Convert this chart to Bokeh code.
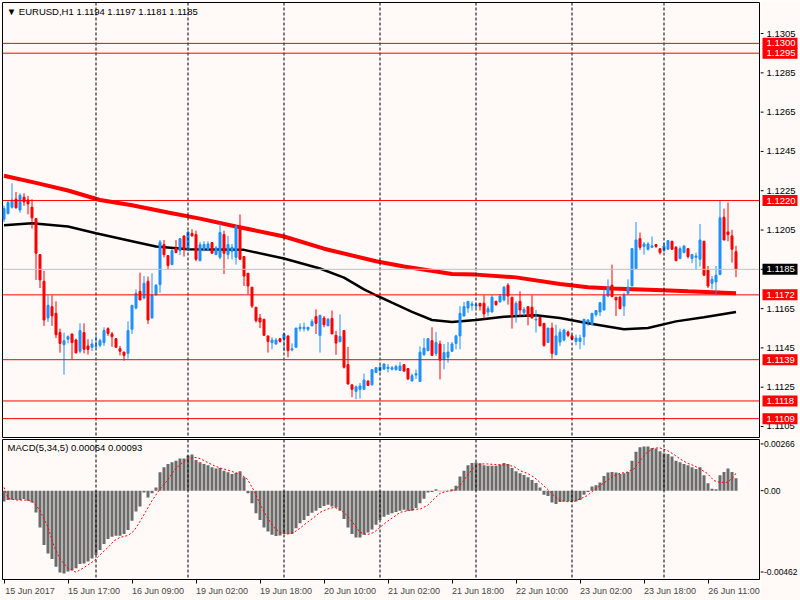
from bokeh.plotting import figure
from bokeh.models import ColumnDataSource, Span, Label, FixedTicker
from bokeh.core.properties import value
from bokeh.layouts import column, row
from bokeh.embed import file_html
from bokeh.resources import INLINE

# ---------------- data (EURUSD H1, bar index 0 = 15 Jun 2017 01:00) ----------------
open_ = [
    1.12105, 1.12134, 1.12166, 1.12207, 1.12152, 1.12217, 1.12203, 1.12166, 1.12108, 1.11925,
    1.11789, 1.11602, 1.11660, 1.11626, 1.11528, 1.11466, 1.11494, 1.11521, 1.11490, 1.11433,
    1.11528, 1.11460, 1.11453, 1.11458, 1.11463, 1.11477, 1.11548, 1.11521, 1.11497, 1.11446,
    1.11429, 1.11422, 1.11545, 1.11653, 1.11738, 1.11704, 1.11789, 1.11602, 1.11721, 1.11772,
    1.11976, 1.11920, 1.11874, 1.11956, 1.11945, 1.12020, 1.11949, 1.12033, 1.12027, 1.11894,
    1.11952, 1.11952, 1.11986, 1.11925, 1.11911, 1.12027, 1.11925, 1.11942, 1.11911, 1.12068,
    1.11915, 1.11830, 1.11759, 1.11657, 1.11602, 1.11596, 1.11511, 1.11477, 1.11470, 1.11497,
    1.11494, 1.11511, 1.11440, 1.11453, 1.11548, 1.11548, 1.11545, 1.11562, 1.11609, 1.11514,
    1.11602, 1.11562, 1.11600, 1.11514, 1.11481, 1.11538, 1.11365, 1.11262, 1.11229, 1.11239,
    1.11239, 1.11282, 1.11262, 1.11325, 1.11335, 1.11342, 1.11345, 1.11342, 1.11339, 1.11335,
    1.11365, 1.11345, 1.11282, 1.11312, 1.11279, 1.11416, 1.11436, 1.11487, 1.11422, 1.11470,
    1.11392, 1.11402, 1.11433, 1.11473, 1.11511, 1.11612, 1.11653, 1.11667, 1.11663, 1.11677,
    1.11677, 1.11633, 1.11633, 1.11687, 1.11684, 1.11694, 1.11769, 1.11708, 1.11619, 1.11687,
    1.11629, 1.11660, 1.11657, 1.11592, 1.11606, 1.11575, 1.11477, 1.11551, 1.11416, 1.11480,
    1.11490, 1.11531, 1.11511, 1.11483, 1.11483, 1.11507, 1.11582, 1.11568, 1.11619, 1.11633,
    1.11643, 1.11714, 1.11769, 1.11708, 1.11708, 1.11663, 1.11728, 1.11765, 1.11854, 1.12006,
    1.11966, 1.11952, 1.11962, 1.11976, 1.11955, 1.11945, 1.11952, 1.11993, 1.11962, 1.11905,
    1.11935, 1.11955, 1.11905, 1.11911, 1.11901, 1.11993, 1.11847, 1.11779, 1.11786, 1.11823,
    1.12115, 1.12040, 1.12020, 1.11940,
]
high_ = [
    1.12173, 1.12198, 1.12288, 1.12244, 1.12237, 1.12237, 1.12224, 1.12207, 1.12108, 1.11925,
    1.11842, 1.11718, 1.11718, 1.11687, 1.11548, 1.11528, 1.11514, 1.11521, 1.11497, 1.11575,
    1.11575, 1.11494, 1.11494, 1.11511, 1.11497, 1.11555, 1.11555, 1.11531, 1.11497, 1.11460,
    1.11429, 1.11585, 1.11667, 1.11748, 1.11833, 1.11816, 1.11813, 1.11830, 1.11775, 1.11999,
    1.11999, 1.11922, 1.11952, 1.11999, 1.12010, 1.12020, 1.12044, 1.12054, 1.12047, 1.11989,
    1.11993, 1.11993, 1.11986, 1.11969, 1.12085, 1.12047, 1.12020, 1.11979, 1.12078, 1.12129,
    1.11915, 1.11830, 1.11759, 1.11657, 1.11623, 1.11596, 1.11511, 1.11504, 1.11500, 1.11497,
    1.11524, 1.11511, 1.11473, 1.11551, 1.11575, 1.11579, 1.11555, 1.11596, 1.11646, 1.11616,
    1.11612, 1.11602, 1.11640, 1.11537, 1.11620, 1.11538, 1.11455, 1.11262, 1.11259, 1.11272,
    1.11319, 1.11282, 1.11339, 1.11352, 1.11362, 1.11372, 1.11368, 1.11358, 1.11365, 1.11378,
    1.11365, 1.11345, 1.11319, 1.11340, 1.11458, 1.11500, 1.11500, 1.11555, 1.11531, 1.11487,
    1.11470, 1.11480, 1.11480, 1.11517, 1.11663, 1.11684, 1.11687, 1.11687, 1.11680, 1.11677,
    1.11718, 1.11663, 1.11718, 1.11690, 1.11724, 1.11765, 1.11779, 1.11708, 1.11687, 1.11738,
    1.11657, 1.11660, 1.11718, 1.11643, 1.11606, 1.11575, 1.11551, 1.11579, 1.11568, 1.11548,
    1.11548, 1.11538, 1.11517, 1.11517, 1.11517, 1.11596, 1.11596, 1.11626, 1.11640, 1.11680,
    1.11748, 1.11799, 1.11874, 1.11708, 1.11714, 1.11731, 1.11799, 1.11959, 1.12091, 1.12037,
    1.11989, 1.11989, 1.12017, 1.11979, 1.11955, 1.11986, 1.11999, 1.11993, 1.11969, 1.11966,
    1.11972, 1.11959, 1.11928, 1.11935, 1.12081, 1.11993, 1.11867, 1.11816, 1.11867, 1.12200,
    1.12159, 1.12190, 1.12051, 1.11970,
]
low_ = [
    1.12091, 1.12129, 1.12159, 1.12159, 1.12139, 1.12173, 1.12130, 1.12057, 1.11796, 1.11755,
    1.11562, 1.11582, 1.11562, 1.11500, 1.11426, 1.11314, 1.11473, 1.11392, 1.11422, 1.11422,
    1.11422, 1.11416, 1.11434, 1.11450, 1.11453, 1.11460, 1.11511, 1.11456, 1.11453, 1.11412,
    1.11385, 1.11395, 1.11521, 1.11646, 1.11694, 1.11697, 1.11572, 1.11602, 1.11715, 1.11731,
    1.11911, 1.11850, 1.11871, 1.11932, 1.11922, 1.11915, 1.11942, 1.12017, 1.11891, 1.11891,
    1.11942, 1.11942, 1.11932, 1.11922, 1.11901, 1.11826, 1.11901, 1.11901, 1.11874, 1.11901,
    1.11765, 1.11724, 1.11653, 1.11579, 1.11551, 1.11514, 1.11426, 1.11443, 1.11466, 1.11477,
    1.11433, 1.11402, 1.11433, 1.11453, 1.11534, 1.11534, 1.11534, 1.11562, 1.11521, 1.11426,
    1.11555, 1.11562, 1.11521, 1.11415, 1.11481, 1.11345, 1.11266, 1.11199, 1.11189, 1.11192,
    1.11239, 1.11259, 1.11259, 1.11322, 1.11325, 1.11339, 1.11325, 1.11335, 1.11335, 1.11332,
    1.11329, 1.11286, 1.11279, 1.11292, 1.11279, 1.11409, 1.11433, 1.11412, 1.11409, 1.11290,
    1.11341, 1.11375, 1.11429, 1.11443, 1.11443, 1.11612, 1.11629, 1.11640, 1.11653, 1.11640,
    1.11599, 1.11612, 1.11629, 1.11665, 1.11680, 1.11687, 1.11670, 1.11548, 1.11579, 1.11609,
    1.11612, 1.11565, 1.11602, 1.11528, 1.11562, 1.11456, 1.11477, 1.11395, 1.11412, 1.11460,
    1.11483, 1.11504, 1.11494, 1.11463, 1.11443, 1.11463, 1.11562, 1.11568, 1.11609, 1.11612,
    1.11640, 1.11708, 1.11708, 1.11612, 1.11646, 1.11612, 1.11721, 1.11765, 1.11854, 1.11949,
    1.11925, 1.11945, 1.11959, 1.11959, 1.11925, 1.11939, 1.11952, 1.11952, 1.11891, 1.11901,
    1.11932, 1.11905, 1.11881, 1.11847, 1.11864, 1.11816, 1.11755, 1.11748, 1.11718, 1.11823,
    1.11999, 1.11993, 1.11884, 1.11810,
]
close_ = [
    1.12159, 1.12190, 1.12203, 1.12163, 1.12227, 1.12193, 1.12183, 1.12112, 1.11932, 1.11796,
    1.11592, 1.11667, 1.11613, 1.11517, 1.11473, 1.11487, 1.11507, 1.11477, 1.11425, 1.11538,
    1.11443, 1.11443, 1.11470, 1.11461, 1.11487, 1.11538, 1.11524, 1.11507, 1.11453, 1.11433,
    1.11412, 1.11538, 1.11667, 1.11728, 1.11694, 1.11779, 1.11592, 1.11718, 1.11769, 1.11989,
    1.11925, 1.11870, 1.11945, 1.11935, 1.12006, 1.11952, 1.12040, 1.12020, 1.11901, 1.11976,
    1.11976, 1.11979, 1.11932, 1.11959, 1.12037, 1.11932, 1.11976, 1.11962, 1.12068, 1.11901,
    1.11816, 1.11765, 1.11663, 1.11589, 1.11582, 1.11514, 1.11483, 1.11490, 1.11490, 1.11483,
    1.11521, 1.11436, 1.11446, 1.11551, 1.11555, 1.11555, 1.11555, 1.11585, 1.11575, 1.11616,
    1.11568, 1.11596, 1.11521, 1.11475, 1.11508, 1.11352, 1.11266, 1.11239, 1.11252, 1.11256,
    1.11286, 1.11259, 1.11339, 1.11349, 1.11352, 1.11368, 1.11352, 1.11349, 1.11355, 1.11358,
    1.11332, 1.11292, 1.11309, 1.11319, 1.11428, 1.11449, 1.11497, 1.11412, 1.11477, 1.11388,
    1.11426, 1.11429, 1.11470, 1.11511, 1.11626, 1.11660, 1.11687, 1.11674, 1.11670, 1.11663,
    1.11623, 1.11650, 1.11708, 1.11670, 1.11714, 1.11759, 1.11714, 1.11612, 1.11677, 1.11643,
    1.11646, 1.11612, 1.11602, 1.11596, 1.11562, 1.11463, 1.11551, 1.11422, 1.11511, 1.11530,
    1.11541, 1.11514, 1.11494, 1.11500, 1.11500, 1.11596, 1.11592, 1.11626, 1.11640, 1.11680,
    1.11718, 1.11759, 1.11711, 1.11694, 1.11650, 1.11718, 1.11759, 1.11955, 1.11999, 1.11962,
    1.11979, 1.11979, 1.11969, 1.11966, 1.11935, 1.11969, 1.11996, 1.11952, 1.11894, 1.11955,
    1.11969, 1.11915, 1.11925, 1.11918, 1.11999, 1.11820, 1.11765, 1.11799, 1.11820, 1.12112,
    1.11999, 1.12027, 1.11952, 1.11850,
]

# moving averages (read at sample bars)
ma_red_bar = [0, 8, 16, 24, 32, 41, 49, 58, 70, 80, 93, 100, 112, 118, 128, 139, 146, 152, 163, 171, 183]
ma_red_val = [1.12326, 1.12290, 1.12251, 1.12203, 1.12176, 1.12139, 1.12108, 1.12068, 1.12017, 1.11955,
              1.11891, 1.11864, 1.11826, 1.11823, 1.11809, 1.11775, 1.11759, 1.11752, 1.11745, 1.11738, 1.11728]
ma_black_bar = [0, 7, 16, 23, 32, 38, 46, 60, 70, 79, 85, 90, 93, 97, 102, 107, 112, 118, 125, 133,
                139, 146, 155, 161, 168, 175, 183]
ma_black_val = [1.12074, 1.12085, 1.12068, 1.12034, 1.11993, 1.11966, 1.11952, 1.11949, 1.11905, 1.11854,
                1.11808, 1.11748, 1.11718, 1.11680, 1.11633, 1.11592, 1.11582, 1.11592, 1.11609, 1.11616,
                1.11602, 1.11575, 1.11545, 1.11551, 1.11585, 1.11606, 1.11633]

# MACD(5,34,5) histogram, one value per bar
macd_hist = [
    -0.00056, -0.00049, -0.00047, -0.00047, -0.00049, -0.00043, -0.00052, -0.00061, -0.00113, -0.00191,
    -0.00283, -0.00327, -0.00356, -0.00396, -0.00426, -0.00431, -0.00421, -0.00414, -0.00403, -0.00382,
    -0.00379, -0.00369, -0.00353, -0.00334, -0.00308, -0.00278, -0.00252, -0.00240, -0.00235, -0.00235,
    -0.00226, -0.00205, -0.00156, -0.00108, -0.00083, -0.00010, -0.00035, -0.00014, 0.00017, 0.00096,
    0.00122, 0.00139, 0.00148, 0.00156, 0.00167, 0.00167, 0.00183, 0.00188, 0.00160, 0.00148,
    0.00139, 0.00132, 0.00122, 0.00115, 0.00118, 0.00104, 0.00096, 0.00087, 0.00092, 0.00101,
    0.00070, -0.00014, -0.00066, -0.00118, -0.00153, -0.00191, -0.00212, -0.00229, -0.00236, -0.00233,
    -0.00226, -0.00226, -0.00226, -0.00195, -0.00170, -0.00153, -0.00132, -0.00115, -0.00104, -0.00090,
    -0.00080, -0.00073, -0.00083, -0.00087, -0.00104, -0.00148, -0.00191, -0.00226, -0.00243, -0.00243,
    -0.00229, -0.00217, -0.00202, -0.00177, -0.00153, -0.00136, -0.00125, -0.00118, -0.00111, -0.00104,
    -0.00099, -0.00104, -0.00104, -0.00090, -0.00066, -0.00042, -0.00009, -0.00007, 0.00007, -0.00003,
    -0.00003, -0.00003, 0.00007, 0.00026, 0.00073, 0.00104, 0.00132, 0.00144, 0.00146, 0.00143,
    0.00132, 0.00129, 0.00129, 0.00130, 0.00136, 0.00144, 0.00139, 0.00118, 0.00101, 0.00090,
    0.00082, 0.00070, 0.00056, 0.00040, 0.00017, -0.00021, -0.00028, -0.00061, -0.00070, -0.00059,
    -0.00057, -0.00056, -0.00056, -0.00056, -0.00049, -0.00021, -0.00007, 0.00021, 0.00028, 0.00042,
    0.00076, 0.00094, 0.00097, 0.00094, 0.00087, 0.00090, 0.00097, 0.00156, 0.00202, 0.00226,
    0.00229, 0.00229, 0.00222, 0.00219, 0.00205, 0.00195, 0.00191, 0.00177, 0.00156, 0.00148,
    0.00139, 0.00132, 0.00122, 0.00113, 0.00122, 0.00080, 0.00038, 0.00010, 0.00007, 0.00080,
    0.00097, 0.00115, 0.00097, 0.00064,
]
# signal line (read at sample bars)
signal_bar = [0, 1, 3, 6, 7.5, 9, 11, 12.5, 14, 16, 18, 20, 22.5, 24, 26, 27.5, 29, 31, 32.5, 34,
              35.8, 37, 39, 40.8, 42.5, 44, 45.8, 47.5, 49, 50.8, 52.5, 54, 55.8, 57.5, 59, 60.8,
              62.5, 64, 65.8, 67.5, 69, 70.8, 72.5, 74, 75.8, 77.5, 79, 80.8, 82.5, 84, 85.8, 87.5,
              89, 90.8, 92.5, 94, 95.8, 97.5, 99, 102.5, 104, 105.8, 107.5, 109, 110.8, 112.5, 114,
              115.8, 117.5, 119, 120.8, 122.5, 124, 125.8, 127.5, 129, 130.8, 132.5, 134, 135.8, 137.5,
              139, 140.8, 142.5, 144, 145.8, 147.5, 149, 150.8, 152.5, 154, 155.8, 157.5, 159, 160.8,
              162.5, 164, 165.8, 167.5, 169, 170.8, 172.5, 174, 175.8, 177.5, 179, 180.8, 182.5, 183]
signal_val = [0.00017, -0.00040, -0.00049, -0.00049, -0.00061, -0.00104, -0.00191, -0.00287, -0.00356, -0.00403,
              -0.00424, -0.00400, -0.00365, -0.00334, -0.00295, -0.00261, -0.00243, -0.00233, -0.00209, -0.00160,
              -0.00096, -0.00052, 0.00009, 0.00052, 0.00104, 0.00136, 0.00163, 0.00174, 0.00167, 0.00148,
              0.00130, 0.00118, 0.00108, 0.00096, 0.00087, 0.00061, 0.00000, -0.00070, -0.00139, -0.00191,
              -0.00217, -0.00226, -0.00217, -0.00195, -0.00165, -0.00139, -0.00113, -0.00096, -0.00087, -0.00096,
              -0.00130, -0.00174, -0.00217, -0.00229, -0.00217, -0.00191, -0.00160, -0.00136, -0.00113, -0.00097,
              -0.00096, -0.00078, -0.00043, -0.00014, -0.00003, 0.00000, 0.00026, 0.00078, 0.00122, 0.00139,
              0.00139, 0.00136, 0.00134, 0.00134, 0.00125, 0.00104, 0.00090, 0.00070, 0.00043, 0.00009,
              -0.00026, -0.00052, -0.00057, -0.00056, -0.00043, -0.00026, 0.00003, 0.00026, 0.00052, 0.00078,
              0.00090, 0.00096, 0.00113, 0.00156, 0.00200, 0.00222, 0.00222, 0.00209, 0.00188, 0.00165,
              0.00143, 0.00130, 0.00113, 0.00090, 0.00052, 0.00043, 0.00043, 0.00073, 0.00093]

# horizontal levels and scale labels
red_levels = [1.1300, 1.1295, 1.1220, 1.1172, 1.1139, 1.1118, 1.1109]
last_price = 1.1185
price_ticks = [1.1105, 1.1125, 1.1145, 1.1165, 1.1185, 1.1205, 1.1225, 1.1245, 1.1265, 1.1285, 1.1305]
day_start_bars = [23, 46, 70, 94, 118, 142, 165]
time_tick_bars = [0, 16, 32, 48, 64, 80, 96, 112, 128, 144, 160, 176]
time_tick_labels = ["15 Jun 2017", "15 Jun 17:00", "16 Jun 09:00", "19 Jun 02:00", "19 Jun 18:00",
                    "20 Jun 10:00", "21 Jun 02:00", "21 Jun 18:00", "22 Jun 10:00", "23 Jun 02:00",
                    "23 Jun 18:00", "26 Jun 11:00"]
macd_scale_labels = ["0.00266", "0.00", "-0.00462"]
macd_scale_at = [0.00243, 0.0, -0.00423]
title_text = "\u25bc EURUSD,H1  1.1194 1.1197 1.1181 1.1185"
macd_text = "MACD(5,34,5) 0.00064 0.00093"

# ---------------- styling ----------------
BG = "#fffaf8"
FONT = "Liberation Sans"
FS = "9.5px"
BLUE = "#1e90ff"
RED = "#ff0000"
X0 = -0.375
X1 = X0 + 757 / 4.0
PRICE_RANGE = (1.10994, 1.13208)
MACD_RANGE = (-0.00462, 0.00266)

n = len(close_)
bars = list(range(n))
colors = [BLUE if c >= o else RED for o, c in zip(open_, close_)]
src = ColumnDataSource(dict(
    x=bars, h=high_, l=low_,
    top=[max(o, c) for o, c in zip(open_, close_)],
    bottom=[min(o, c) for o, c in zip(open_, close_)],
    color=colors,
))

# ---------------- price panel ----------------
p = figure(width=760, height=438, x_range=(X0, X1), y_range=PRICE_RANGE,
           y_axis_location=None, x_axis_location=None, toolbar_location=None,
           output_backend="svg", min_border_left=2, min_border_right=1,
           min_border_top=2, min_border_bottom=1,
           background_fill_color=BG, border_fill_color=BG, outline_line_color="black")
p.grid.visible = False

for b in day_start_bars:
    p.add_layout(Span(location=b, dimension="height", line_color="black", line_width=1, line_dash="3 2"))
for lv in red_levels:
    p.add_layout(Span(location=lv, dimension="width", line_color=RED, line_width=1))
p.add_layout(Span(location=last_price, dimension="width", line_color="#c0c0c0", line_width=1))

p.line(ma_black_bar, ma_black_val, line_color="black", line_width=2.5)
p.line(ma_red_bar, ma_red_val, line_color=RED, line_width=4)

p.segment(x0="x", y0="h", x1="x", y1="l", line_color="color", line_width=1, source=src)
p.vbar(x="x", width=0.5, top="top", bottom="bottom", fill_color="color",
       line_color="color", line_width=1, source=src)

p.add_layout(Label(x=0.7, y=1.13162, text=title_text, text_align="left", text_baseline="middle",
                   text_color="black", text_font=FONT, text_font_size=FS))

# ---------------- price scale column (right of the chart) ----------------
pr = figure(width=40, height=438, x_range=(0, 40), y_range=p.y_range,
            y_axis_location=None, x_axis_location=None, toolbar_location=None,
            output_backend="svg", min_border_left=0, min_border_right=0,
            min_border_top=2, min_border_bottom=1,
            background_fill_color=BG, border_fill_color=BG, outline_line_color=None)
pr.grid.visible = False
pr.segment(x0=[0] * len(price_ticks), y0=price_ticks, x1=[3] * len(price_ticks), y1=price_ticks,
           line_color="black", line_width=1)
pr.text(x=[6] * len(price_ticks), y=price_ticks, text=[f"{t:.4f}" for t in price_ticks],
        text_align="left", text_baseline="middle", text_color="black",
        text_font=value(FONT), text_font_size=value(FS))
box_levels = red_levels + [last_price]
box_colors = [RED] * len(red_levels) + ["black"]
pr.rect(x=[19.5] * len(box_levels), y=box_levels, width=35, height=11, height_units="screen",
        fill_color=box_colors, line_color=None)
pr.text(x=[6] * len(box_levels), y=box_levels, text=[f"{v:.4f}" for v in box_levels],
        text_align="left", text_baseline="middle", text_color="white",
        text_font=value(FONT), text_font_size=value(FS))

# ---------------- MACD panel ----------------
q = figure(width=760, height=162, x_range=p.x_range, y_range=MACD_RANGE,
           y_axis_location=None, toolbar_location=None, output_backend="svg",
           min_border_left=2, min_border_right=1, min_border_top=1, min_border_bottom=21,
           background_fill_color=BG, border_fill_color=BG, outline_line_color="black")
q.grid.visible = False

half_label = 6.5  # labels start at their bar, as in the terminal
label_centres = [b + half_label for b in time_tick_bars]
qx = q.xaxis[0]
qx.ticker = FixedTicker(ticks=label_centres, minor_ticks=time_tick_bars)
qx.major_label_overrides = {c: t for c, t in zip(label_centres, time_tick_labels)}
qx.major_label_text_font = FONT
qx.major_label_text_font_size = "9px"
qx.major_tick_line_color = None
qx.major_tick_out = 3
qx.major_tick_in = 0
qx.minor_tick_out = 4
qx.minor_tick_in = 0
qx.minor_tick_line_color = "black"
qx.major_label_standoff = 2
qx.axis_line_color = "black"

for b in day_start_bars:
    q.add_layout(Span(location=b, dimension="height", line_color="black", line_width=1, line_dash="3 2"))

q.vbar(x=bars, width=0.75, top=macd_hist, bottom=0, fill_color="#6b6b6b", line_color=None)
q.line(signal_bar, signal_val, line_color=RED, line_width=1, line_dash="2 2")
q.add_layout(Label(x=0.9, y=0.00224, text=macd_text, text_align="left", text_baseline="middle",
                   text_color="black", text_font=FONT, text_font_size=FS))

# ---------------- MACD scale column ----------------
qr = figure(width=40, height=162, x_range=(0, 40), y_range=q.y_range,
            y_axis_location=None, x_axis_location=None, toolbar_location=None,
            output_backend="svg", min_border_left=0, min_border_right=0,
            min_border_top=1, min_border_bottom=21,
            background_fill_color=BG, border_fill_color=BG, outline_line_color=None)
qr.grid.visible = False
qr.segment(x0=[0] * 3, y0=macd_scale_at, x1=[3] * 3, y1=macd_scale_at, line_color="black", line_width=1)
qr.text(x=[3.5] * 3, y=macd_scale_at, text=macd_scale_labels, text_align="left", text_baseline="middle",
        text_color="black", text_font=value(FONT), text_font_size=value("8.5px"))

layout = row(column(p, q, spacing=0), column(pr, qr, spacing=0), spacing=0)
open("out.html", "w").write(file_html(layout, INLINE))
